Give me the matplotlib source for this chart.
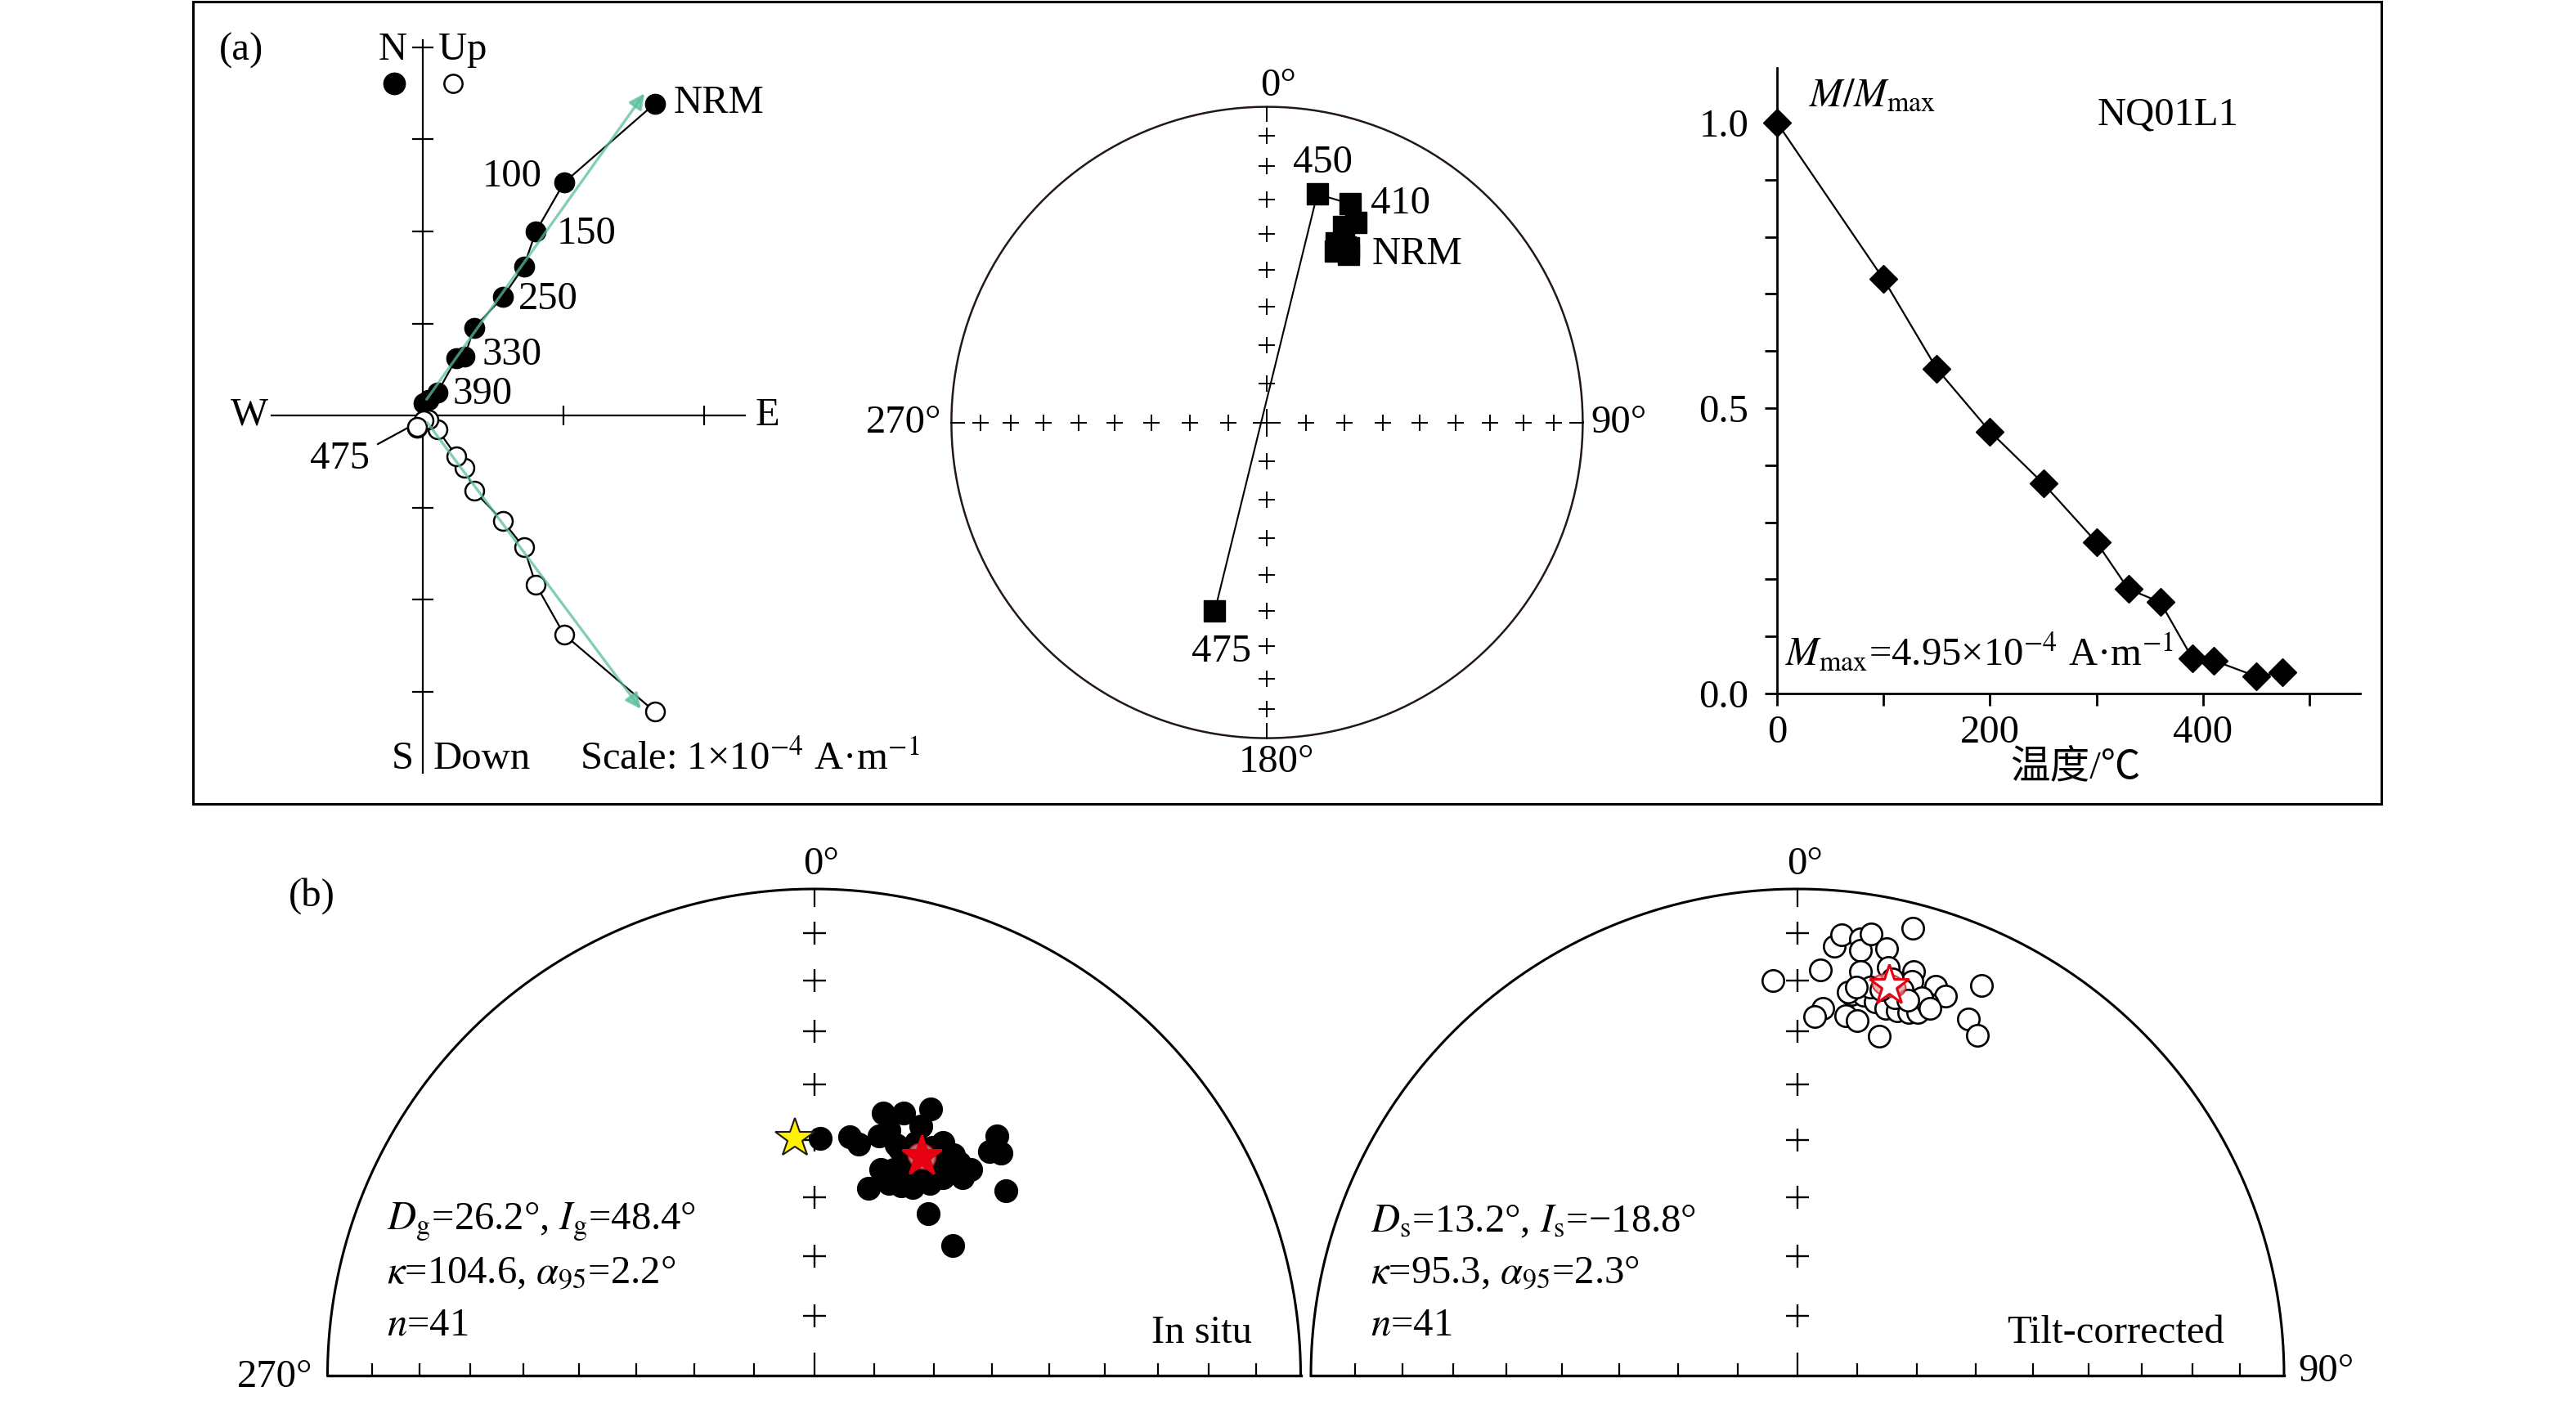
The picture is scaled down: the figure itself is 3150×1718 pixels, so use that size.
import numpy as np
import matplotlib
matplotlib.use('Agg')
import matplotlib.pyplot as plt
from matplotlib.patches import Rectangle

plt.rcParams['font.family'] = ['Liberation Serif', 'Noto Sans CJK SC']
plt.rcParams['mathtext.fontset'] = 'stix'
FS = 35

# ---- data: thermal demagnetization of NQ01L1 (units 1e-4 A/m)
steps = ['NRM', '100', '150', '200', '250', '300', '330', '360', '390', '410', '450', '475']
temps = [0, 100, 150, 200, 250, 300, 330, 360, 390, 410, 450, 475]
east = [1.65, 1.005, 0.806, 0.72, 0.573, 0.366, 0.30, 0.241, 0.107, 0.045, 0.01, -0.04]
north = [3.39, 2.53, 2.00, 1.62, 1.29, 0.95, 0.64, 0.618, 0.249, 0.17, 0.13, -0.13]
down = [3.22, 2.38, 1.84, 1.435, 1.15, 0.82, 0.567, 0.442, 0.151, 0.044, 0.05, 0.122]
m_norm = [1.0, 0.726, 0.569, 0.459, 0.368, 0.265, 0.183, 0.160, 0.062, 0.058, 0.030, 0.037]
step_dec = [25.9, 21.7, 22.0, 24.0, 23.9, 21.0, 25.0, 21.3, 24.0, 20.9, 12.4, 195.5]
step_inc = [40.5, 41.2, 40.5, 39.0, 39.2, 38.9, 38.8, 33.7, 31.3, 26.8, 26.8, 38.0]

# ---- site directions (n=41), in situ and tilt-corrected
geo_dec = [1.4, 8.5, 10.9, 14.7, 18.9, 23.7, 15.2, 16.9, 23.2, 20.7, 28.9, 32.3, 34.3, 37.2,
           36.9, 33.1, 30.2, 28.1, 25.1, 17.9, 21.2, 24.6, 27.7, 16.1, 37.4, 38.1, 40.0, 46.1,
           35.2, 46.9, 26.3, 27.4, 23.7, 21.2, 32.3, 35.1, 19.7, 23.6, 29.7, 31.0, 24.7]
geo_inc = [49.7, 48.9, 50.0, 43.5, 42.4, 40.0, 47.7, 46.2, 43.5, 48.8, 44.4, 45.3, 46.0, 45.8,
           47.8, 49.8, 50.0, 51.4, 51.4, 53.3, 55.1, 54.7, 54.0, 57.1, 38.1, 41.2, 40.1, 44.4,
           56.6, 57.9, 48.8, 46.2, 49.2, 52.5, 47.9, 47.7, 48.3, 46.6, 47.4, 51.9, 53.1]
tilt_dec = [356.5, 3.2, 4.9, 5.7, 8.2, 8.4, 9.5, 11.8, 14.5, 8.9, 12.6, 16.0, 16.2, 19.5,
            21.3, 25.3, 8.1, 9.9, 11.8, 13.5, 15.3, 17.0, 18.3, 19.2, 18.2, 7.6, 9.6, 3.9,
            2.7, 13.6, 25.6, 27.9, 14.4, 15.2, 16.4, 10.6, 7.5, 19.9, 13.4, 12.2, 8.6]
tilt_inc = [-19.8, -17.7, -12.4, -9.9, -10.3, -12.6, -8.8, -11.4, -5.7, -17.1, -15.2, -14.8,
            -16.7, -16.2, -17.5, -12.4, -22.0, -21.7, -22.6, -23.5, -23.4, -23.1, -22.5, -20.1,
            -19.4, -26.3, -27.0, -25.4, -27.1, -29.0, -19.8, -22.0, -20.9, -18.9, -20.7, -19.9,
            -21.6, -20.9, -17.3, -20.0, -20.3]
pgf_dec, pgf_inc = 355.4, 49.5
geo_mean = (26.2, 48.4, 2.2)
tilt_mean = (13.2, -18.8, 2.3)


def ea(dec, inc):
    d = np.radians(dec)
    r = np.sqrt(2) * np.sin(np.radians(90 - np.abs(np.asarray(inc, float))) / 2)
    return r * np.sin(d), r * np.cos(d)


def small_circle(dec, inc, a95):
    d, i = np.radians(dec), np.radians(inc)
    m = np.array([np.cos(i) * np.cos(d), np.cos(i) * np.sin(d), np.sin(i)])
    u = np.cross(m, [0, 0, 1.0])
    u /= np.linalg.norm(u)
    v = np.cross(m, u)
    t = np.linspace(0, 2 * np.pi, 100)
    a = np.radians(a95)
    p = np.cos(a) * m[:, None] + np.sin(a) * (np.cos(t) * u[:, None] + np.sin(t) * v[:, None])
    cd = np.degrees(np.arctan2(p[1], p[0]))
    ci = np.degrees(np.arcsin(p[2]))
    return ea(cd, ci)


W, H = 3150, 1718
fig = plt.figure(figsize=(31.5, 17.18), dpi=100)


def box(left, top, w, h):
    return fig.add_axes([left / W, 1 - (top + h) / H, w / W, h / H])


ticks_ea = np.sqrt(2) * np.sin(np.radians(90 - np.arange(10, 90, 10)) / 2)

# frame of (a)
fig.patches.append(Rectangle((236 / W, 1 - 983 / H), (2912 - 236) / W, (983 - 2) / H,
                             transform=fig.transFigure, fill=False, lw=2.2, color='black'))
fig.text(268 / W, 1 - 62 / H, '(a)', fontsize=FS, va='center')
fig.text(353 / W, 1 - 1096 / H, '(b)', fontsize=FS, va='center')

# ---- Zijderveld diagram
sx, sy = 172.3, 112.5
az = box(516.5 - 1.6 * sx, 508 - 4.4 * sy, 4.1 * sx, 8.5 * sy)
az.set_xlim(-1.6, 2.5)
az.set_ylim(-4.1, 4.4)
az.axis('off')
az.plot([-1.07, 2.29], [0, 0], color='black', lw=1.6)
az.plot([0, 0], [-3.88, 4.08], color='black', lw=1.6)
az.plot([1, 2], [0, 0], ls='none', marker='|', ms=17, mew=1.6, color='black')
az.plot([0] * 7, [4, 3, 2, 1, -1, -2, -3], ls='none', marker='_', ms=19, mew=1.6, color='black')
az.plot(east, north, color='black', lw=1.6, marker='o', ms=17.5, mfc='black', mec='black', zorder=3)
az.plot(east, [-d for d in down], color='black', lw=1.6, marker='o', ms=16.5, mfc='white',
        mec='black', mew=1.8, zorder=4)
arrow = dict(arrowstyle='-|>', color='#5bbf9b', lw=2.4, alpha=0.75, mutation_scale=28,
             shrinkA=0, shrinkB=0)
az.annotate('', xy=(1.576, 3.50), xytext=(0.03, 0.175), arrowprops=arrow, zorder=5)
az.annotate('', xy=(1.55, -3.19), xytext=(0.034, -0.076), arrowprops=arrow, zorder=5)
az.plot([-0.2], [3.61], marker='o', ms=19, color='black', clip_on=False)
az.plot([0.215], [3.61], marker='o', ms=16, mfc='white', mec='black', mew=1.8, clip_on=False)
az.text(-0.212, 3.97, 'N', fontsize=FS, ha='center', va='center')
az.text(0.113, 3.97, 'Up', fontsize=FS, ha='left', va='center')
az.text(-0.142, -3.733, 'S', fontsize=FS, ha='center', va='center')
az.text(0.073, -3.733, 'Down', fontsize=FS, ha='left', va='center')
az.text(1.117, -3.733, r'Scale: 1×10$^{-4}$ A·m$^{-1}$', fontsize=FS, ha='left', va='center')
az.text(-1.227, 0.0, 'W', fontsize=FS, ha='center', va='center')
az.text(2.446, 0.0, 'E', fontsize=FS, ha='center', va='center')
zlabels = {'NRM': (1.783, 3.40, 'left'), '100': (0.85, 2.60, 'right'), '150': (0.955, 1.97, 'left'),
           '250': (0.682, 1.26, 'left'), '330': (0.421, 0.66, 'left'), '390': (0.215, 0.23, 'left')}
for s, (x, y, ha) in zlabels.items():
    az.text(x, y, s, fontsize=FS, ha=ha, va='center')
az.text(-0.589, -0.47, '475', fontsize=FS, ha='center', va='center')
az.plot([-0.316, -0.113], [-0.311, -0.142], color='black', lw=1.6)

# ---- equal-area plot of demagnetization steps
R0 = 386
ast = box(1549.4 - 1.3 * R0, 516.6 - 1.3 * R0, 2.6 * R0, 2.6 * R0)
ast.set_xlim(-1.3, 1.3)
ast.set_ylim(-1.3, 1.3)
ast.axis('off')
t = np.linspace(0, 2 * np.pi, 400)
ast.plot(np.cos(t), np.sin(t), color='#231815', lw=1.8)
for sgn in (1, -1):
    ast.plot(np.zeros(8), sgn * ticks_ea, ls='none', marker='+', ms=14, mew=1.4, color='black')
    ast.plot(sgn * ticks_ea, np.zeros(8), ls='none', marker='+', ms=14, mew=1.4, color='black')
    ast.plot([0, 0], [sgn * 1, sgn * 0.955], color='black', lw=1.4)
    ast.plot([sgn * 1, sgn * 0.96], [0, 0], color='black', lw=1.4)
ast.plot([0], [0], marker='+', ms=24, mew=1.4, color='black')
sx_, sy_ = ea(step_dec, step_inc)
ast.plot(sx_, sy_, color='black', lw=1.5, marker='s', ms=19, zorder=3)
ast.text(0.035, 1.066, '0°', fontsize=FS, ha='center', va='center')
ast.text(0.031, -1.077, '180°', fontsize=FS, ha='center', va='center')
ast.text(-1.03, 0, '270°', fontsize=FS, ha='right', va='center')
ast.text(1.027, 0, '90°', fontsize=FS, ha='left', va='center')
ast.text(0.177, 0.823, '450', fontsize=FS, ha='center', va='center')
ast.text(0.329, 0.694, '410', fontsize=FS, ha='left', va='center')
ast.text(0.331, 0.533, 'NRM', fontsize=FS, ha='left', va='center')
ast.text(-0.146, -0.727, '475', fontsize=FS, ha='center', va='center')

# ---- intensity decay
am = box(2173, 848 - 1.096 * 698, 548 * 1.302, 1.096 * 698)
am.plot(temps, m_norm, color='black', lw=1.6, marker='D', ms=17.5, clip_on=False, zorder=3)
am.set_xlim(0, 548)
am.set_ylim(0, 1.096)
for side in ('top', 'right'):
    am.spines[side].set_visible(False)
for side in ('left', 'bottom'):
    am.spines[side].set_linewidth(2)
am.set_xticks([0, 200, 400])
am.set_xticks([100, 300, 500], minor=True)
am.set_yticks([0, 0.5, 1.0])
am.set_yticklabels(['0.0', '0.5', '1.0'])
am.set_yticks(np.arange(0.1, 1.05, 0.1), minor=True)
am.tick_params(which='both', direction='out', length=11, width=2, labelsize=FS)
am.tick_params(axis='y', pad=14)
am.tick_params(axis='x', pad=8)
am.patch.set_visible(False)
am.text(30, 1.046, r'$M/M_{\rm max}$', fontsize=FS, ha='left', va='center')
am.text(301, 1.013, 'NQ01L1', fontsize=FS, ha='left', va='center')
am.text(8, 0.073, r'$M_{\rm max}$=4.95×10$^{-4}$ A·m$^{-1}$', fontsize=FS, ha='left', va='center')
am.text(280, -0.13, '温度/℃', fontsize=FS, ha='center', va='center')

# ---- site-mean equal-area plots (upper half)
RB = 595
for cx, decs, incs, mean, info, tag, filled in [
        (995.5, geo_dec, geo_inc, geo_mean,
         [r'$D_{\rm g}$=26.2°, $I_{\rm g}$=48.4°', r'$\kappa$=104.6, $\alpha_{95}$=2.2°', r'$n$=41'],
         'In situ', True),
        (2198, tilt_dec, tilt_inc, tilt_mean,
         [r'$D_{\rm s}$=13.2°, $I_{\rm s}$=−18.8°', r'$\kappa$=95.3, $\alpha_{95}$=2.3°', r'$n$=41'],
         'Tilt-corrected', False)]:
    ab = box(cx - 1.12 * RB, 1682 - 1.12 * RB, 2.24 * RB, 1.2 * RB)
    ab.set_xlim(-1.12, 1.12)
    ab.set_ylim(-0.08, 1.12)
    ab.axis('off')
    th = np.linspace(0, np.pi, 300)
    ab.plot(np.cos(th), np.sin(th), color='black', lw=2.2)
    ab.plot([-1, 1], [0, 0], color='black', lw=2.4)
    for sgn in (1, -1):
        for r in ticks_ea:
            ab.plot([sgn * r, sgn * r], [0, 0.024], color='black', lw=1.6)
    ab.plot([0, 0], [0, 0.046], color='black', lw=1.6)
    ab.plot([0, 0], [1, 0.965], color='black', lw=1.6)
    ab.plot(np.zeros(8), ticks_ea, ls='none', marker='+', ms=20, mew=1.7, color='black')
    px, py = ea(decs, incs)
    if filled:
        ab.plot(px, py, ls='none', marker='o', ms=20, color='black', zorder=3)
        gx, gy = ea(pgf_dec, pgf_inc)
        ab.plot(gx, gy, marker='*', ms=36, mfc='#fff100', mec='#231815', mew=1.5, zorder=5)
    else:
        ab.plot(px, py, ls='none', marker='o', ms=19, mfc='white', mec='black', mew=1.9, zorder=3)
    cxs, cys = small_circle(*mean)
    ab.fill(cxs, cys, fc='#e89aa2', ec='#c8161d', lw=1.5, alpha=0.75, zorder=4)
    mx, my = ea(mean[0], mean[1])
    ab.plot(mx, my, marker='*', ms=37, mfc='#e60012' if filled else 'white', mec='#e60012',
            mew=2.2, zorder=5)
    for k, s in enumerate(info):
        ab.text(-0.878, 0.316 - 0.106 * k, s, fontsize=FS, ha='left', va='center')
    ab.text(0.9 if filled else 0.877, 0.087, tag, fontsize=FS, ha='right', va='center')
    ab.text(0.015, 1.05, '0°', fontsize=FS, ha='center', va='center')
    if filled:
        ab.text(-1.031, -0.004, '270°', fontsize=FS, ha='right', va='center')
    else:
        ab.text(1.029, 0.008, '90°', fontsize=FS, ha='left', va='center')

fig.savefig('out.png', dpi=100)
